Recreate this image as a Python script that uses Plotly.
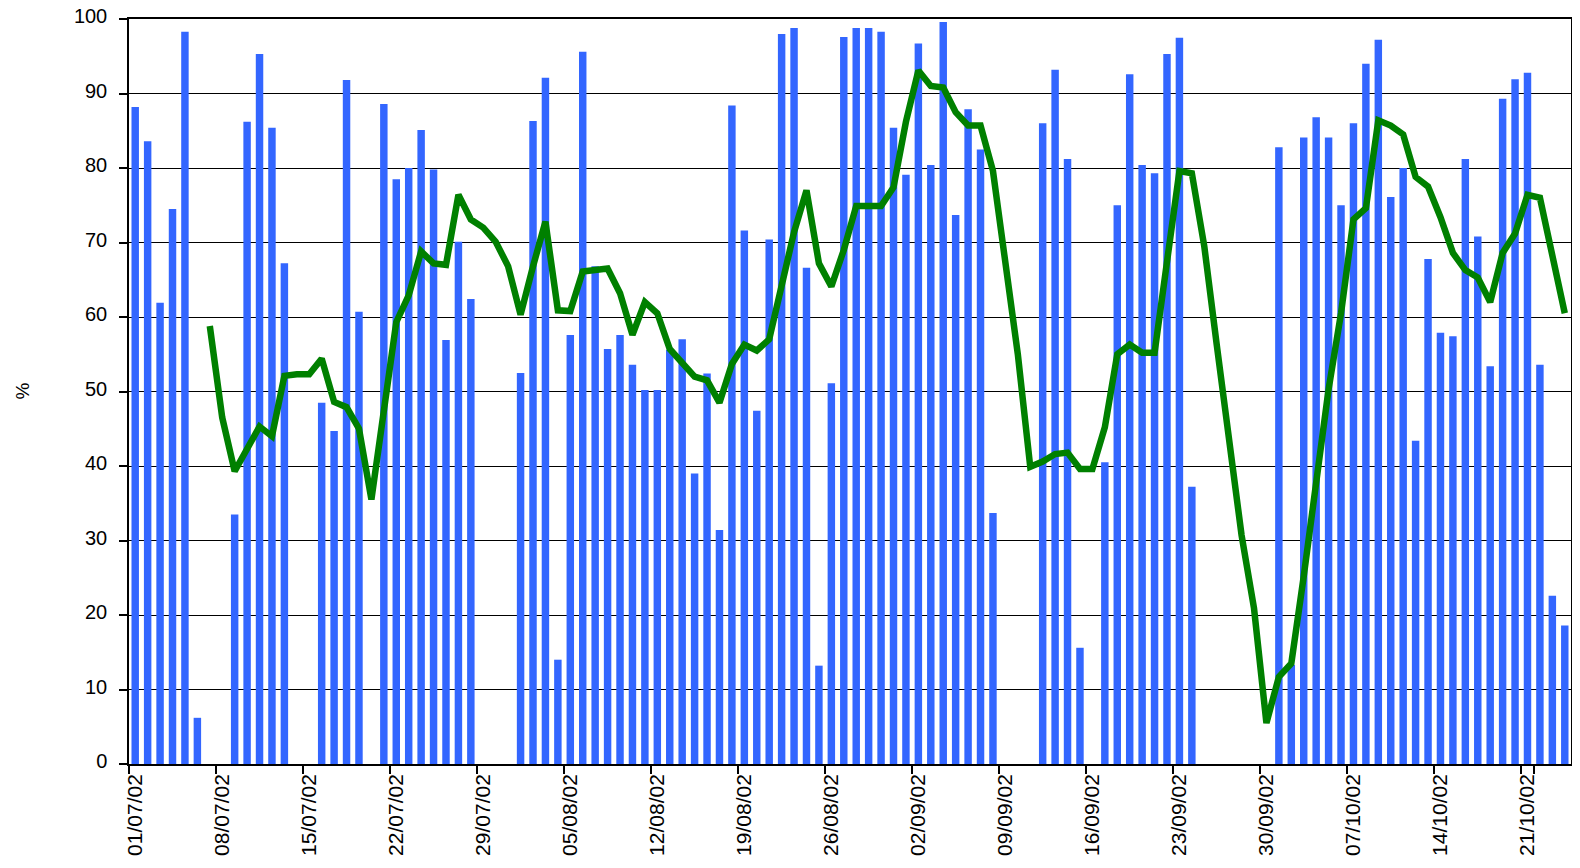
import pandas as pd
import plotly.graph_objects as go

# Categories: daily dates 01/07/02 .. 24/10/02
dates = [d.strftime("%d/%m/%y") for d in pd.date_range("2002-07-01", "2002-10-24", freq="D")]

# Daily values (%), None = no bar
daily_pct = [
    88.2, 83.6, 61.9, 74.5, 98.3, 6.2, None, None, 33.5, 86.2,
    95.3, 85.4, 67.2, None, None, 48.5, 44.7, 91.8, 60.7, None,
    88.6, 78.5, 80.0, 85.1, 79.8, 56.9, 70.1, 62.4, None, None,
    None, 52.5, 86.3, 92.1, 14.0, 57.6, 95.6, 66.8, 55.7, 57.6,
    53.6, 50.2, 50.2, 55.6, 57.0, 39.0, 52.4, 31.4, 88.4, 71.6,
    47.4, 70.4, 98.0, 98.8, 66.6, 13.2, 51.1, 97.6, 98.8, 98.8,
    98.3, 85.4, 79.1, 96.7, 80.4, 99.6, 73.7, 87.9, 82.5, 33.7,
    None, None, None, 86.0, 93.2, 81.2, 15.6, None, 40.5, 75.0,
    92.6, 80.4, 79.3, 95.3, 97.5, 37.2, None, None, None, None,
    None, None, 82.8, 13.3, 84.1, 86.8, 84.1, 75.0, 86.0, 94.0,
    97.2, 76.1, 80.0, 43.4, 67.8, 57.9, 57.4, 81.2, 70.8, 53.4,
    89.3, 91.9, 92.8, 53.6, 22.6, 18.6,
]

# Trend line (%), starts on the 7th day
trend_pct = [
    None, None, None, None, None, None, 58.8, 46.5, 39.3, 42.2,
    45.3, 44.0, 52.1, 52.3, 52.3, 54.4, 48.6, 47.9, 45.0, 35.5,
    48.0, 59.3, 62.9, 68.8, 67.2, 67.0, 76.4, 73.1, 72.0, 70.1,
    66.8, 60.3, 66.8, 72.8, 60.9, 60.8, 66.1, 66.3, 66.5, 63.2,
    57.6, 62.0, 60.5, 55.7, 54.0, 52.0, 51.5, 48.5, 53.7, 56.3,
    55.5, 57.0, 64.2, 71.4, 77.0, 67.2, 64.1, 69.0, 74.9, 74.9,
    74.9, 77.4, 86.2, 93.1, 91.0, 90.8, 87.5, 85.7, 85.7, 79.6,
    66.8, 55.0, 39.9, 40.6, 41.6, 41.8, 39.6, 39.6, 45.2, 55.0,
    56.3, 55.2, 55.2, 67.5, 79.6, 79.3, 69.5, 56.3, 43.2, 30.7,
    20.9, 5.5, 11.7, 13.5, 25.2, 37.3, 50.3, 60.5, 73.1, 74.6,
    86.4, 85.7, 84.5, 78.8, 77.5, 73.4, 68.6, 66.3, 65.3, 62.0,
    68.6, 71.2, 76.4, 76.0, 68.3, 60.5,
]

tick_labels = dates[::7]
y_ticks = list(range(0, 101, 10))

FONT = "Liberation Sans, Arial, sans-serif"

# The page body adds an 8px margin; the figure is sized to fit inside it.
FIG_W, FIG_H = 1564, 852
M_L, M_R, M_T, M_B = 121, 1, 11, 96

fig = go.Figure()
fig.add_trace(go.Bar(
    x=dates, y=daily_pct,
    marker=dict(color="#3366FF", line=dict(width=0)),
    showlegend=False,
))
fig.add_trace(go.Scatter(
    x=dates, y=trend_pct, mode="lines",
    line=dict(color="#008000", width=6.5),
    connectgaps=False, showlegend=False,
))

fig.update_layout(
    width=FIG_W, height=FIG_H,
    margin=dict(l=M_L, r=M_R, t=M_T, b=M_B, autoexpand=False),
    paper_bgcolor="white", plot_bgcolor="white",
    bargap=0.4,
    font=dict(family=FONT, size=21, color="black"),
    xaxis=dict(
        type="category",
        categoryorder="array", categoryarray=dates,
        range=[-0.5, len(dates) - 0.5],
        tickmode="array", tickvals=tick_labels, ticktext=tick_labels,
        tickson="boundaries",
        tickangle=-90,
        ticks="outside", ticklen=8, tickcolor="black", tickwidth=1.5,
        showline=True, linecolor="black", linewidth=1.5, mirror=True,
        showgrid=False, automargin=False,
        ticklabeloverflow="allow",
        tickfont=dict(family=FONT, size=21, color="black"),
    ),
    yaxis=dict(
        range=[0, 100],
        tickmode="array", tickvals=y_ticks,
        ticks="outside", ticklen=8, tickcolor="black", tickwidth=1.5,
        showline=True, linecolor="black", linewidth=1.5, mirror=True,
        showgrid=True, gridcolor="black", gridwidth=1.2,
        zeroline=False, automargin=False,
        ticklabelstandoff=8, ticklabelshift=-3,
        ticklabeloverflow="allow",
        tickfont=dict(family=FONT, size=20, color="black"),
    ),
    annotations=[dict(
        text="%", xref="paper", yref="paper",
        x=(14 - M_L) / (FIG_W - M_L - M_R), y=0.5,
        xanchor="center", yanchor="middle",
        textangle=-90, showarrow=False,
        font=dict(family=FONT, size=19, color="black"),
    )],
)

fig.write_html("out.html")
